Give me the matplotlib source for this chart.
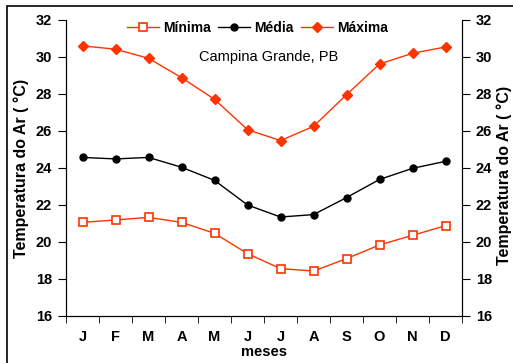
import matplotlib
matplotlib.use('Agg')
import matplotlib.pyplot as plt
from matplotlib.patches import Rectangle

plt.rcParams['font.family'] = ['Liberation Sans', 'DejaVu Sans']

meses = ['J', 'F', 'M', 'A', 'M', 'J', 'J', 'A', 'S', 'O', 'N', 'D']
minima = [21.06, 21.19, 21.33, 21.06, 20.47, 19.37, 18.56, 18.43, 19.10, 19.84, 20.36, 20.88]
media = [24.57, 24.49, 24.57, 24.04, 23.33, 22.00, 21.35, 21.48, 22.40, 23.38, 23.98, 24.36]
maxima = [30.60, 30.42, 29.93, 28.88, 27.71, 26.07, 25.48, 26.25, 27.96, 29.62, 30.20, 30.54]

vermelho = '#FF3300'


def main():
    fig = plt.figure(figsize=(5.13, 3.63), dpi=100)
    ax = fig.add_axes([0.1287, 0.1295, 0.7719, 0.8155])
    x = list(range(len(meses)))

    ax.plot(x, minima, color=vermelho, lw=1, marker='s', ms=6, mfc='white', mec=vermelho, mew=1.2, label='Mínima')
    ax.plot(x, media, color='black', lw=1, marker='o', ms=5, label='Média')
    ax.plot(x, maxima, color=vermelho, lw=1, marker='D', ms=5.5, label='Máxima')

    ax.set_xlim(-0.5, 11.5)
    ax.set_ylim(16, 32)
    ax.set_yticks(range(16, 33, 2))
    ax.set_xticks(x)
    ax.set_xticklabels(meses, fontsize=10.5, fontweight='bold')
    ax.set_xticks([i + 0.5 for i in range(-1, 12)], minor=True)
    ax.tick_params(axis='x', which='major', length=0, pad=10)
    ax.tick_params(axis='x', which='minor', length=5, direction='out')
    ax.tick_params(axis='y', length=6, direction='out', labelsize=10.5, pad=4)
    for t in ax.get_yticklabels():
        t.set_fontweight('bold')
    ax.spines['top'].set_visible(False)
    ax.set_xlabel('meses', fontsize=10.5, fontweight='bold', va='center')
    ax.xaxis.set_label_coords(0.5, -0.12)
    ax.set_ylabel('Temperatura do Ar ( °C)', fontsize=11.5, fontweight='bold', va='center')
    ax.yaxis.set_label_coords(-0.112, 0.5)

    ax2 = ax.twinx()
    ax2.set_ylim(16, 32)
    ax2.set_yticks(range(16, 33, 2))
    ax2.tick_params(axis='y', length=6, direction='out', labelsize=10.5, pad=4)
    for t in ax2.get_yticklabels():
        t.set_fontweight('bold')
    ax2.spines['top'].set_visible(False)
    ax2.set_ylabel('Temperatura do Ar ( °C)', fontsize=11.5, fontweight='bold', rotation=90, va='center')
    ax2.yaxis.set_label_coords(1.106, 0.475)

    ax.legend(loc='center', bbox_to_anchor=(0.4836, 0.972), ncol=3, frameon=False,
              prop={'weight': 'bold', 'size': 10}, handlelength=2.28, handletextpad=0.29,
              columnspacing=0.55, borderpad=0, borderaxespad=0)
    ax.text(0.512, 0.876, 'Campina Grande, PB', transform=ax.transAxes, ha='center', va='center', fontsize=10.5)

    # moldura da figura
    fig.patches.append(Rectangle((7 / 513, -0.1), 1.2, 1 - 6 / 363 + 0.1, transform=fig.transFigure,
                                 fill=False, edgecolor='black', lw=1.2))

    fig.savefig('out.png', dpi=100)


if __name__ == '__main__':
    main()
